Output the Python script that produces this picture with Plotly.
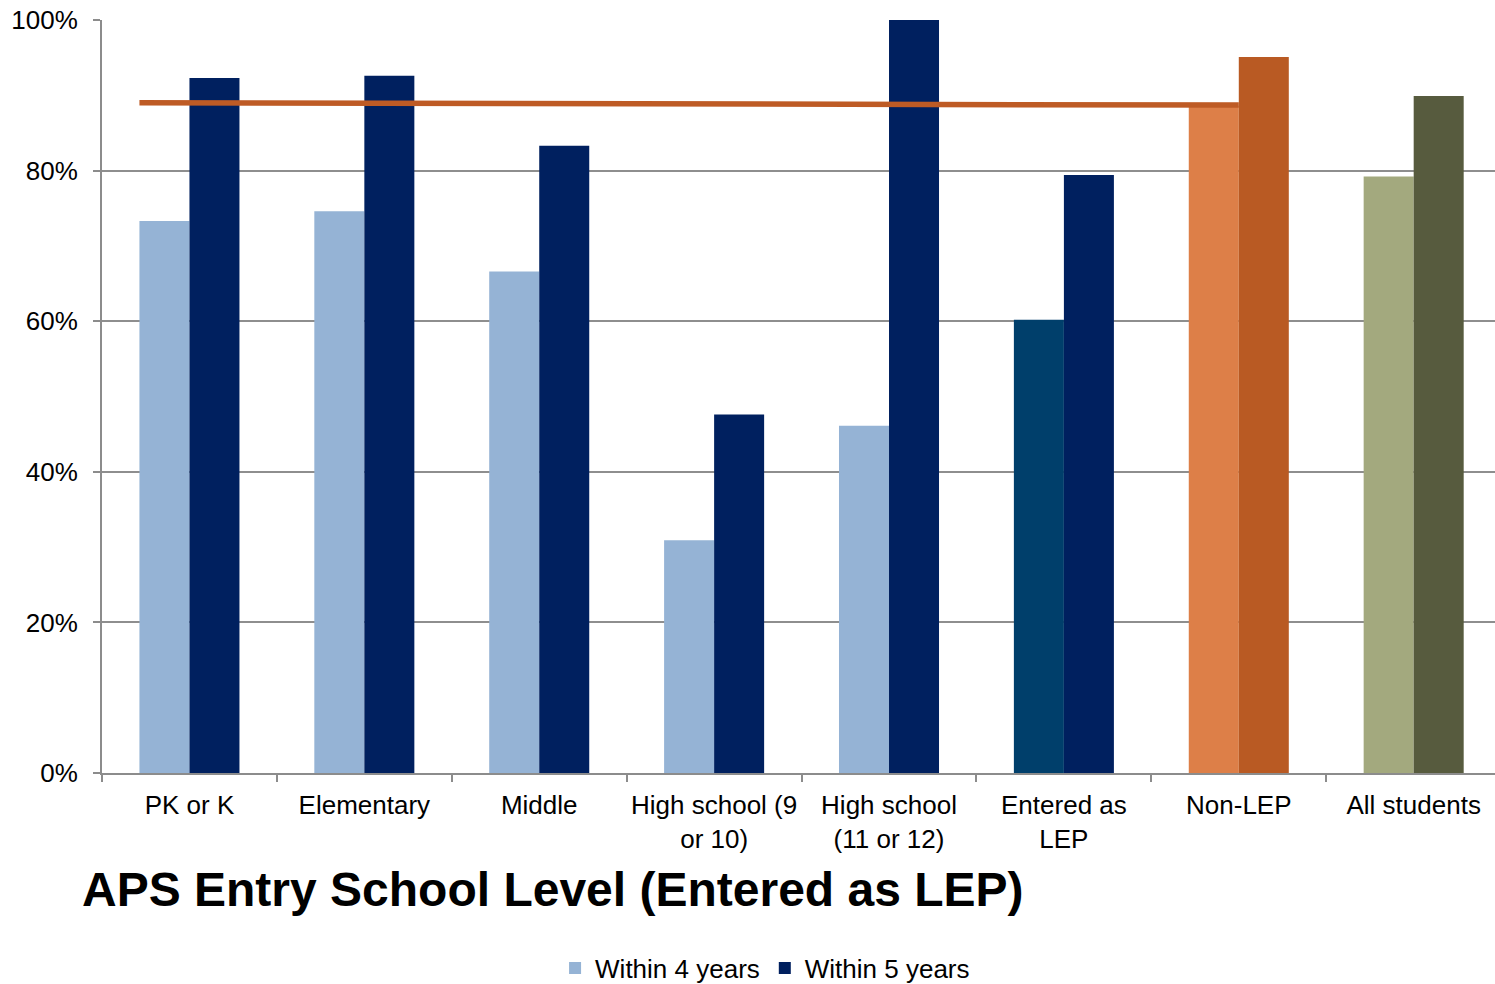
import plotly.graph_objects as go

# Graduation rates by APS entry school level
categories = [
    "PK or K", "Elementary", "Middle", "High school (9<br>or 10)",
    "High school<br>(11 or 12)", "Entered as<br>LEP", "Non-LEP", "All students",
]
within_4_years = [73.3, 74.6, 66.6, 30.9, 46.1, 60.2, 88.6, 79.2]
within_5_years = [92.3, 92.6, 83.3, 47.6, 100.0, 79.4, 95.1, 89.9]

# Reference rate (Non-LEP, within 4 years) drawn as a line across the LEP groups
reference_rate = [89.0, 88.7]
reference_end_category = "Non-LEP"

colors_4 = ["#95B3D5"] * 5 + ["#003F6B", "#DD7F48", "#A3A97E"]
colors_5 = ["#00205F"] * 6 + ["#B95A23", "#575B3E"]

y_ticks = [0, 20, 40, 60, 80, 100]
y_tick_text = [f"{v}%" for v in y_ticks]

BARGAP = 0.428
idx = list(range(len(categories)))
group_half = (1 - BARGAP) / 2

fig = go.Figure()
fig.add_trace(go.Bar(
    x=idx, y=within_4_years, name="Within 4 years",
    marker=dict(color=colors_4, line=dict(width=0)),
))
fig.add_trace(go.Bar(
    x=idx, y=within_5_years, name="Within 5 years",
    marker=dict(color=colors_5, line=dict(width=0)),
))
fig.add_trace(go.Scatter(
    x=[idx[0] - group_half, categories.index(reference_end_category)],
    y=reference_rate, mode="lines",
    line=dict(color="#BE5B25", width=5.5),
    showlegend=False, hoverinfo="skip",
))

font_family = "Liberation Sans, Arial, sans-serif"
axis_gray = "#8C8C8C"

fig.update_layout(
    width=1495, height=984,
    margin=dict(l=102, r=0, t=20, b=211, autoexpand=False),
    paper_bgcolor="white", plot_bgcolor="white",
    barmode="group", bargap=BARGAP, bargroupgap=0,
    font=dict(family=font_family, size=26, color="black"),
    showlegend=True,
    legend=dict(
        orientation="h", x=0.476, xanchor="center", y=-0.259, yanchor="middle",
        font=dict(size=26), itemwidth=30, tracegroupgap=0,
    ),
    xaxis=dict(
        range=[-0.5, 7.465], automargin=False,
        tickmode="array", tickvals=idx, ticktext=categories,
        ticks="", showgrid=False, zeroline=False,
        showline=True, linecolor=axis_gray, linewidth=2,
        ticklabelstandoff=8,
        tickfont=dict(size=26),
        minor=dict(
            tickmode="array", tickvals=[i - 0.5 for i in idx],
            ticks="outside", ticklen=7, tickcolor=axis_gray, tickwidth=2,
            showgrid=False,
        ),
    ),
    yaxis=dict(
        range=[0, 100], automargin=False,
        tickmode="array", tickvals=y_ticks, ticktext=y_tick_text,
        ticks="outside", ticklen=7, tickcolor=axis_gray, tickwidth=2,
        showgrid=True, gridcolor="#8E8E8E", gridwidth=2,
        zeroline=False,
        showline=True, linecolor=axis_gray, linewidth=2,
        ticklabelstandoff=10,
        tickfont=dict(size=26),
    ),
    annotations=[dict(
        text="<b>APS Entry School Level (Entered as LEP)</b>",
        xref="paper", yref="paper", x=-0.0158, y=-0.155,
        xanchor="left", yanchor="middle", showarrow=False,
        font=dict(family=font_family, size=48, color="black"),
    )],
)

fig.write_html("out.html")
